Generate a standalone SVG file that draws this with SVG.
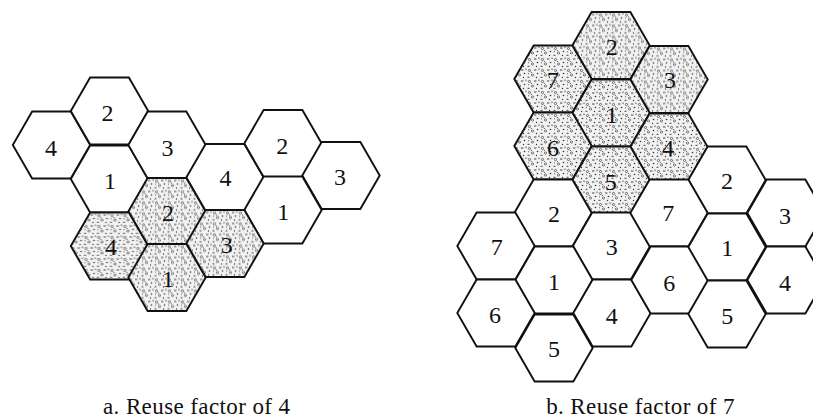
<svg xmlns="http://www.w3.org/2000/svg" xmlns:xlink="http://www.w3.org/1999/xlink" width="813" height="420" viewBox="0 0 813 420">
<style>
  .white { fill: #ffffff; stroke: #111; stroke-width: 1.9; stroke-linejoin: miter; }
  .shaded { fill: url(#stipple); stroke: #111; stroke-width: 1.9; stroke-linejoin: miter; }
  .lbl { font-family: "Liberation Serif", "Times New Roman", serif; font-size: 24px; fill: #111; text-anchor: middle; }
  .cap { font-family: "Liberation Serif", "Times New Roman", serif; font-size: 23px; fill: #111; text-anchor: middle; letter-spacing: 0.4px; }
</style>
<defs>
  <polygon id="hex" points="-38.7,0 -19.35,-33.5 19.35,-33.5 38.7,0 19.35,33.5 -19.35,33.5"/>
  <pattern id="stipple" patternUnits="userSpaceOnUse" width="13" height="11">
    <rect width="13" height="11" fill="#f2f2f2"/>
    <circle cx="2.5" cy="2.5" r="1.1" fill="none" stroke="#333" stroke-width="0.7"/>
    <rect x="7" y="1.5" width="2.4" height="1" fill="#444"/>
    <circle cx="10.5" cy="5.5" r="0.8" fill="#333"/>
    <circle cx="5.5" cy="7" r="1.1" fill="none" stroke="#444" stroke-width="0.7"/>
    <rect x="0.5" y="8.8" width="2" height="1" fill="#444"/>
    <circle cx="9.5" cy="9.5" r="0.7" fill="#333"/>
    <circle cx="4.5" cy="4.5" r="0.6" fill="#555"/>
    <rect x="11.5" y="0.5" width="1" height="1.6" fill="#555"/>
    <circle cx="1.5" cy="5.8" r="0.55" fill="#444"/>
  </pattern>
</defs>

<!-- a. Reuse factor of 4 -->
<g id="a-4L"><use xlink:href="#hex" href="#hex" x="51.5" y="145" class="white"/><text class="lbl" x="51" y="155.5">4</text></g>
<g id="a-2T"><use xlink:href="#hex" href="#hex" x="109.5" y="111" class="white"/><text class="lbl" x="107.5" y="121">2</text></g>
<g id="a-1"><use xlink:href="#hex" href="#hex" x="109.5" y="179" class="white"/><text class="lbl" x="110" y="189">1</text></g>
<g id="a-3"><use xlink:href="#hex" href="#hex" x="167" y="145" class="white"/><text class="lbl" x="167.5" y="155.5">3</text></g>
<g id="a-4M"><use xlink:href="#hex" href="#hex" x="225" y="177.5" class="white"/><text class="lbl" x="225.5" y="185.7">4</text></g>
<g id="a-2R"><use xlink:href="#hex" href="#hex" x="283" y="143.5" class="white"/><text class="lbl" x="282.3" y="154">2</text></g>
<g id="a-3R"><use xlink:href="#hex" href="#hex" x="341" y="175.5" class="white"/><text class="lbl" x="340" y="185">3</text></g>
<g id="a-1R"><use xlink:href="#hex" href="#hex" x="283" y="210" class="white"/><text class="lbl" x="283.3" y="220.3">1</text></g>
<g id="a-s2"><use xlink:href="#hex" href="#hex" x="167" y="211.5" class="shaded"/><text class="lbl" x="168" y="221">2</text></g>
<g id="a-s4"><use xlink:href="#hex" href="#hex" x="109.5" y="246" class="shaded"/><text class="lbl" x="111" y="255">4</text></g>
<g id="a-s3"><use xlink:href="#hex" href="#hex" x="225" y="243.5" class="shaded"/><text class="lbl" x="226.7" y="253">3</text></g>
<g id="a-s1"><use xlink:href="#hex" href="#hex" x="167" y="277.5" class="shaded"/><text class="lbl" x="168" y="287">1</text></g>

<!-- b. Reuse factor of 7 -->
<g id="b-s2"><use xlink:href="#hex" href="#hex" x="611" y="45.5" class="shaded"/><text class="lbl" x="611.7" y="54.7">2</text></g>
<g id="b-s7"><use xlink:href="#hex" href="#hex" x="553" y="79" class="shaded"/><text class="lbl" x="552.7" y="88">7</text></g>
<g id="b-s3"><use xlink:href="#hex" href="#hex" x="669" y="79.5" class="shaded"/><text class="lbl" x="670" y="88">3</text></g>
<g id="b-s1"><use xlink:href="#hex" href="#hex" x="611" y="113" class="shaded"/><text class="lbl" x="611.7" y="123">1</text></g>
<g id="b-s6"><use xlink:href="#hex" href="#hex" x="553" y="146" class="shaded"/><text class="lbl" x="553" y="156">6</text></g>
<g id="b-s4"><use xlink:href="#hex" href="#hex" x="669" y="147" class="shaded"/><text class="lbl" x="668" y="156">4</text></g>
<g id="b-s5"><use xlink:href="#hex" href="#hex" x="611" y="180" class="shaded"/><text class="lbl" x="610.7" y="189.7">5</text></g>
<g id="b-2R"><use xlink:href="#hex" href="#hex" x="727" y="180" class="white"/><text class="lbl" x="727" y="188.7">2</text></g>
<g id="b-2"><use xlink:href="#hex" href="#hex" x="553" y="213" class="white"/><text class="lbl" x="554" y="221.7">2</text></g>
<g id="b-7L"><use xlink:href="#hex" href="#hex" x="496" y="246" class="white"/><text class="lbl" x="496.7" y="254.7">7</text></g>
<g id="b-3"><use xlink:href="#hex" href="#hex" x="611.5" y="246" class="white"/><text class="lbl" x="611.7" y="255.3">3</text></g>
<g id="b-7M"><use xlink:href="#hex" href="#hex" x="669" y="213" class="white"/><text class="lbl" x="668.3" y="221.3">7</text></g>
<g id="b-1L"><use xlink:href="#hex" href="#hex" x="554" y="280" class="white"/><text class="lbl" x="554" y="289.7">1</text></g>
<g id="b-6L"><use xlink:href="#hex" href="#hex" x="496" y="313" class="white"/><text class="lbl" x="495" y="323">6</text></g>
<g id="b-5"><use xlink:href="#hex" href="#hex" x="554" y="348" class="white"/><text class="lbl" x="554" y="357.3">5</text></g>
<g id="b-4"><use xlink:href="#hex" href="#hex" x="612" y="313" class="white"/><text class="lbl" x="611.7" y="324">4</text></g>
<g id="b-6M"><use xlink:href="#hex" href="#hex" x="670" y="280" class="white"/><text class="lbl" x="669.3" y="290.7">6</text></g>
<g id="b-1R"><use xlink:href="#hex" href="#hex" x="727" y="247" class="white"/><text class="lbl" x="727.3" y="256.3">1</text></g>
<g id="b-5R"><use xlink:href="#hex" href="#hex" x="727" y="314" class="white"/><text class="lbl" x="727.3" y="324">5</text></g>
<g id="b-3R"><use xlink:href="#hex" href="#hex" x="786" y="213" class="white"/><text class="lbl" x="785" y="223.5">3</text></g>
<g id="b-4R"><use xlink:href="#hex" href="#hex" x="786" y="280" class="white"/><text class="lbl" x="785" y="291.3">4</text></g>

<g id="captions">
  <text class="cap" x="196.7" y="414">a. Reuse factor of 4</text>
  <text class="cap" x="640.5" y="414">b. Reuse factor of 7</text>
</g>
</svg>
